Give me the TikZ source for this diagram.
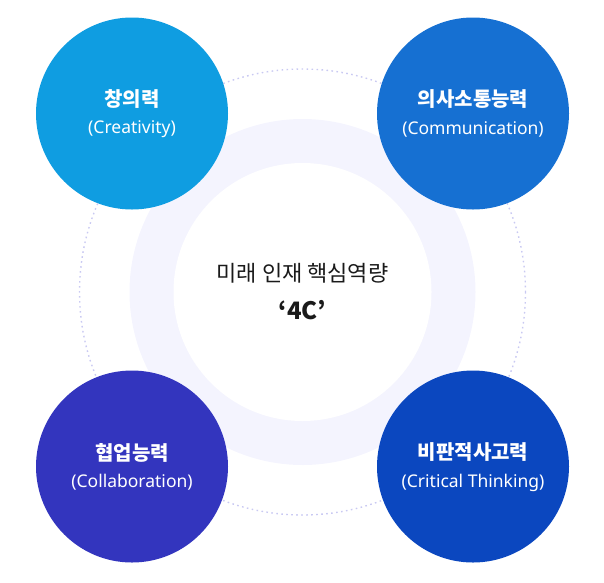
\documentclass[tikz,border=0pt]{standalone}
\usepackage{fontspec}
\newfontfamily\kr{Noto Sans CJK KR}
\newfontfamily\lat{Noto Sans}
\definecolor{cA}{HTML}{0F9DE1}
\definecolor{cB}{HTML}{1670D2}
\definecolor{cC}{HTML}{3335BE}
\definecolor{cD}{HTML}{0B47BF}
\definecolor{ringc}{HTML}{F4F4FE}
\definecolor{dotc}{HTML}{C9C9F2}
\definecolor{txt}{HTML}{1A1A1A}
\tikzset{
  skill/.style={circle, minimum size=192pt, inner sep=0pt, text=white, align=center},
  ttl/.style={font=\kr\bfseries\fontsize{20}{24}\selectfont},
  sub/.style={font=\lat\fontsize{17.5}{21}\selectfont},
}
\begin{document}
\begin{tikzpicture}[x=1pt,y=-1pt]
\useasboundingbox (0,0) rectangle (604,582);
\coordinate (c) at (302.5,292);
\draw[dotc, line width=1.4pt, dash pattern=on 1.6pt off 3.4pt] (c) circle[radius=223];
\fill[ringc] (c) circle[radius=173];
\fill[white] (c) circle[radius=129];
\node[font=\kr\fontsize{22}{26}\selectfont, text=txt] (t1) at (302.5,273) {미래 인재 핵심역량};
\node[font=\kr\bfseries\fontsize{24}{28}\selectfont, text=txt] (t2) at (302.5,310) {‘4C’};
\node[skill, fill=cA] (a) at (132,113.5) {};
\node[skill, fill=cB] (b) at (473,113.5) {};
\node[skill, fill=cC] (d) at (132,466.5) {};
\node[skill, fill=cD] (e) at (473,466.5) {};
\foreach \n/\k/\e in {a/창의력/(Creativity), b/의사소통능력/(Communication), d/협업능력/(Collaboration), e/비판적사고력/(Critical Thinking)}{
  \node[ttl, text=white] (\n t) at ([yshift=14pt]\n.center) {\k};
  \node[sub, text=white] (\n s) at ([yshift=-16pt]\n.center) {\e};
}
\end{tikzpicture}
\end{document}
